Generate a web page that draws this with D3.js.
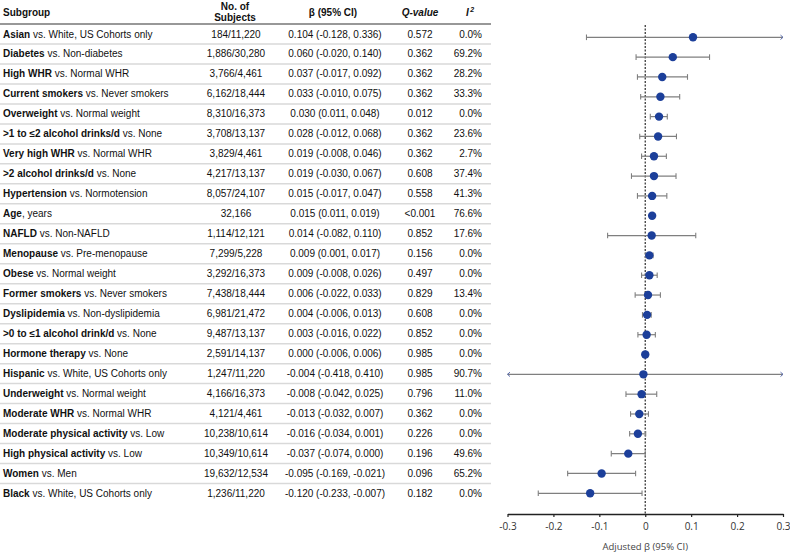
<!DOCTYPE html>
<html>
<head>
<meta charset="utf-8">
<script src="https://cdn.jsdelivr.net/npm/d3@7"></script>
<style>
  body { margin: 0; background: #fff; }
  svg { display: block; font-family: "Liberation Sans", Arial, sans-serif; }
</style>
</head>
<body>
<svg id="chart" width="790" height="552"></svg>
<script>
const boldLabels = ["Asian","Diabetes","High WHR","Current smokers","Overweight",">1 to \u22642 alcohol drinks/d","Very high WHR",">2 alcohol drinks/d","Hypertension","Age","NAFLD","Menopause","Obese","Former smokers","Dyslipidemia",">0 to \u22641 alcohol drink/d","Hormone therapy","Hispanic","Underweight","Moderate WHR","Moderate physical activity","High physical activity","Women","Black"];
const restLabels = [" vs. White, US Cohorts only"," vs. Non-diabetes"," vs. Normal WHR"," vs. Never smokers"," vs. Normal weight"," vs. None"," vs. Normal WHR"," vs. None"," vs. Normotension",", years"," vs. Non-NAFLD"," vs. Pre-menopause"," vs. Normal weight"," vs. Never smokers"," vs. Non-dyslipidemia"," vs. None"," vs. None"," vs. White, US Cohorts only"," vs. Normal weight"," vs. Normal WHR"," vs. Low"," vs. Low"," vs. Men"," vs. White, US Cohorts only"];
const subjects = ["184/11,220","1,886/30,280","3,766/4,461","6,162/18,444","8,310/16,373","3,708/13,137","3,829/4,461","4,217/13,137","8,057/24,107","32,166","1,114/12,121","7,299/5,228","3,292/16,373","7,438/18,444","6,981/21,472","9,487/13,137","2,591/14,137","1,247/11,220","4,166/16,373","4,121/4,461","10,238/10,614","10,349/10,614","19,632/12,534","1,236/11,220"];
const beta  = [0.104,0.060,0.037,0.033,0.030,0.028,0.019,0.019,0.015,0.015,0.014,0.009,0.009,0.006,0.004,0.003,0.000,-0.004,-0.008,-0.013,-0.016,-0.037,-0.095,-0.120];
const lower = [-0.128,-0.020,-0.017,-0.010,0.011,-0.012,-0.008,-0.030,-0.017,0.011,-0.082,0.001,-0.008,-0.022,-0.006,-0.016,-0.006,-0.418,-0.042,-0.032,-0.034,-0.074,-0.169,-0.233];
const upper = [0.336,0.140,0.092,0.075,0.048,0.068,0.046,0.067,0.047,0.019,0.110,0.017,0.026,0.033,0.013,0.022,0.006,0.410,0.025,0.007,0.001,0.000,-0.021,-0.007];
const qValues = ["0.572","0.362","0.362","0.362","0.012","0.362","0.362","0.608","0.558","<0.001","0.852","0.156","0.497","0.829","0.608","0.852","0.985","0.985","0.796","0.362","0.226","0.196","0.096","0.182"];
const i2Values = ["0.0%","69.2%","28.2%","33.3%","0.0%","23.6%","2.7%","37.4%","41.3%","76.6%","17.6%","0.0%","0.0%","13.4%","0.0%","0.0%","0.0%","90.7%","11.0%","0.0%","0.0%","49.6%","65.2%","0.0%"];
const xTicks = [-0.3,-0.2,-0.1,0,0.1,0.2,0.3];

const svg = d3.select("#chart");
const n = beta.length;
const idx = d3.range(n);

// ---- Table ----
const yTable = d3.scalePoint().domain(idx).range([34, 493.5]);
const rowH = yTable.step();
const table = svg.append("g").attr("font-size", 10).attr("fill", "#111");

// header
const hdr = table.append("g").attr("font-weight", "bold");
hdr.append("text").attr("x", 3).attr("y", 15.5).text("Subgroup");
hdr.append("text").attr("x", 235).attr("y", 9.5).attr("text-anchor", "middle").text("No. of");
hdr.append("text").attr("x", 235).attr("y", 21).attr("text-anchor", "middle").text("Subjects");
hdr.append("text").attr("x", 333).attr("y", 15.5).attr("text-anchor", "middle").text("\u03b2 (95% CI)");
hdr.append("text").attr("x", 420).attr("y", 15.5).attr("text-anchor", "middle").attr("font-style", "italic").text("Q-value");
const i2h = hdr.append("text").attr("x", 466).attr("y", 15.5).attr("font-style", "italic");
i2h.append("tspan").text("I");
i2h.append("tspan").attr("font-size", 7).attr("dx", 1.5).attr("dy", -4).text("2");

table.append("line").attr("x1", 0).attr("x2", 491).attr("y1", 24).attr("y2", 24)
  .attr("stroke", "#333").attr("stroke-width", 1.2);

// row separators
table.selectAll("line.sep").data(idx.slice(0, n - 1)).join("line")
  .attr("class", "sep")
  .attr("x1", 0).attr("x2", 491)
  .attr("y1", d => yTable(d) + rowH / 2).attr("y2", d => yTable(d) + rowH / 2)
  .attr("stroke", "#d9d9d9").attr("stroke-width", 1.5);

const rows = table.selectAll("g.row").data(idx).join("g").attr("class", "row")
  .attr("transform", d => `translate(0,${yTable(d) + 3.5})`);
const lab = rows.append("text").attr("x", 3);
lab.append("tspan").attr("font-weight", "bold").text(d => boldLabels[d]);
lab.append("tspan").text(d => restLabels[d]);
rows.append("text").attr("x", 236).attr("text-anchor", "middle").text(d => subjects[d]);
const f3 = v => v.toFixed(3);
rows.append("text").attr("x", 335).attr("text-anchor", "middle")
  .text(d => `${f3(beta[d])} (${f3(lower[d])}, ${f3(upper[d])})`);
rows.append("text").attr("x", 420).attr("text-anchor", "middle").text(d => qValues[d]);
rows.append("text").attr("x", 482).attr("text-anchor", "end").text(d => i2Values[d]);

// ---- Forest plot ----
const x = d3.scaleLinear().domain([-0.3, 0.3]).range([507.5, 783]);
const yPlot = d3.scalePoint().domain(idx).range([37.3, 493.3]);
const axisY = 514;
const plot = svg.append("g");

// zero line
plot.append("line").attr("x1", x(0)).attr("x2", x(0)).attr("y1", 25).attr("y2", axisY)
  .attr("stroke", "#3a3a3a").attr("stroke-width", 1.3).attr("stroke-dasharray", "2,1.5");

const clamp = v => Math.max(-0.3, Math.min(0.3, v));
const ci = plot.selectAll("g.ci").data(idx).join("g").attr("class", "ci");
ci.append("line")
  .attr("x1", d => x(clamp(lower[d]))).attr("x2", d => x(clamp(upper[d])))
  .attr("y1", d => yPlot(d)).attr("y2", d => yPlot(d))
  .attr("stroke", "#7f7f7f").attr("stroke-width", 1.2);
// caps
ci.filter(d => lower[d] >= -0.3).append("line")
  .attr("x1", d => x(lower[d])).attr("x2", d => x(lower[d]))
  .attr("y1", d => yPlot(d) - 2.8).attr("y2", d => yPlot(d) + 2.8)
  .attr("stroke", "#7f7f7f").attr("stroke-width", 1.1);
ci.filter(d => upper[d] <= 0.3).append("line")
  .attr("x1", d => x(upper[d])).attr("x2", d => x(upper[d]))
  .attr("y1", d => yPlot(d) - 2.8).attr("y2", d => yPlot(d) + 2.8)
  .attr("stroke", "#7f7f7f").attr("stroke-width", 1.1);
// arrows for clipped intervals
ci.filter(d => upper[d] > 0.3).append("path")
  .attr("d", d => { const X = x(0.3), Y = yPlot(d); return `M${X-2.5},${Y-2.2}L${X},${Y}L${X-2.5},${Y+2.2}`; })
  .attr("fill", "none").attr("stroke", "#5a6cae").attr("stroke-width", 1);
ci.filter(d => lower[d] < -0.3).append("path")
  .attr("d", d => { const X = x(-0.3), Y = yPlot(d); return `M${X+2.5},${Y-2.2}L${X},${Y}L${X+2.5},${Y+2.2}`; })
  .attr("fill", "none").attr("stroke", "#5a6cae").attr("stroke-width", 1);
// points
plot.selectAll("circle.pt").data(idx).join("circle").attr("class", "pt")
  .attr("cx", d => x(beta[d])).attr("cy", d => yPlot(d)).attr("r", 4.2)
  .attr("fill", "#1c3f9a");

// axis
const axis = d3.axisBottom(x).tickValues(xTicks).tickSize(3).tickSizeOuter(0)
  .tickFormat(d => Math.abs(d) < 1e-9 ? "0" : d.toFixed(1));
const ag = plot.append("g").attr("transform", `translate(0,${axisY})`).call(axis);
ag.select(".domain").attr("stroke", "#222").attr("stroke-width", 1.5);
ag.selectAll(".tick line").attr("stroke", "#222").attr("stroke-width", 1.2);
ag.selectAll(".tick text").attr("font-family", "'Open Sans', 'DejaVu Sans', sans-serif")
  .attr("font-size", 10).attr("fill", "#333").attr("y", 9).attr("dy", "0.71em");

plot.append("text").attr("x", x(0)).attr("y", 549.5).attr("text-anchor", "middle")
  .attr("font-family", "'Open Sans', 'DejaVu Sans', sans-serif").attr("font-size", 9.5)
  .attr("fill", "#444").text("Adjusted \u03b2 (95% CI)");
</script>
</body>
</html>
